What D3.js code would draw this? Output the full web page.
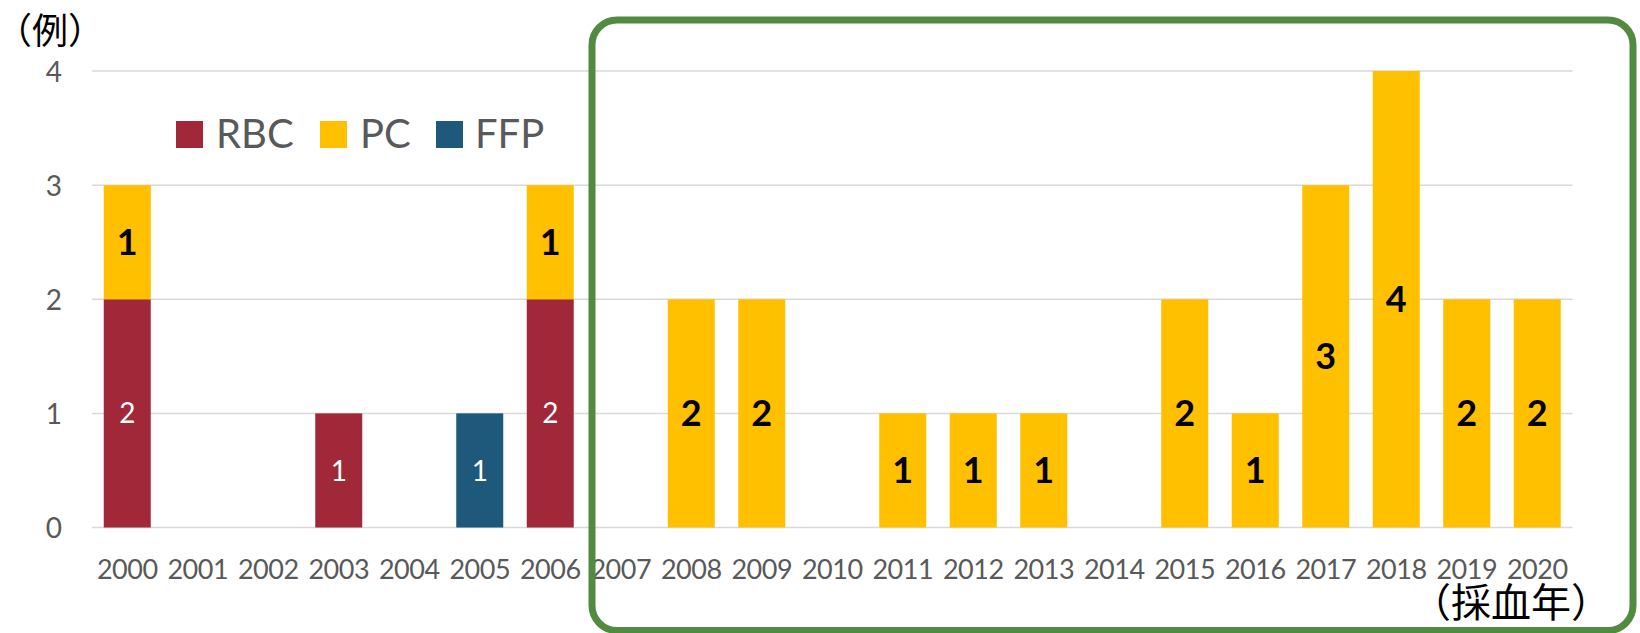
<!DOCTYPE html>
<html>
<head>
<meta charset="utf-8">
<script src="https://cdn.jsdelivr.net/npm/d3@7"></script>
<style>
  html, body { margin: 0; padding: 0; background: #fff; }
  svg { display: block; }
</style>
</head>
<body>
<svg id="chart" width="1640" height="633"></svg>
<script>
// Transfusion-transmitted cases by blood collection year, stacked by product type
const years = ["2000","2001","2002","2003","2004","2005","2006","2007","2008","2009","2010",
               "2011","2012","2013","2014","2015","2016","2017","2018","2019","2020"];
const seriesNames = ["RBC", "PC", "FFP"];
const rbcValues = [2,0,0,1,0,0,2,0,0,0,0,0,0,0,0,0,0,0,0,0,0];
const pcValues  = [1,0,0,0,0,0,1,0,2,2,0,1,1,1,0,2,1,3,4,2,2];
const ffpValues = [0,0,0,0,0,1,0,0,0,0,0,0,0,0,0,0,0,0,0,0,0];
const yTicks = [0, 1, 2, 3, 4];
const yUnitLabel = "（例）";
const xUnitLabel = "（採血年）";

const colors = { RBC: "#A02838", PC: "#FFC000", FFP: "#1E587B" };
const labelStyle = {
  RBC: { fill: "#ffffff", weight: "normal", size: 28 },
  PC:  { fill: "#000000", weight: "bold",   size: 36 },
  FFP: { fill: "#ffffff", weight: "normal", size: 28 }
};
const latin = "Lato, 'Open Sans', sans-serif";
const cjk = "'Noto Sans CJK JP', 'Noto Sans CJK SC', sans-serif";
const gray = "#595959";

const rows = years.map((y, i) => ({ year: y, RBC: rbcValues[i], PC: pcValues[i], FFP: ffpValues[i] }));
const stacked = d3.stack().keys(seriesNames)(rows);

const svg = d3.select("#chart");

const x = d3.scaleBand().domain(years).range([92, 1572.5]).paddingInner(1/3).paddingOuter(1/6);
const y = d3.scaleLinear().domain([0, 4]).range([527.5, 71]);

// Horizontal gridlines
svg.append("g").selectAll("line").data(yTicks).join("line")
  .attr("x1", 92).attr("x2", 1572.5)
  .attr("y1", d => y(d)).attr("y2", d => y(d))
  .attr("stroke", "#D9D9D9").attr("stroke-width", 1.5);

// Y axis tick labels
const yAxis = d3.axisLeft(y).tickValues(yTicks).tickSize(0).tickPadding(0).tickFormat(d3.format("d"));
const yg = svg.append("g").attr("transform", "translate(62,0)").call(yAxis);
yg.select(".domain").remove();
yg.selectAll("text").attr("font-family", latin).attr("font-size", 28).attr("fill", gray)
  .attr("dy", "0.36em");

// X axis tick labels
const xAxis = d3.axisBottom(x).tickSize(0).tickPadding(0);
const xg = svg.append("g").attr("transform", "translate(0,558)").call(xAxis);
xg.select(".domain").remove();
xg.selectAll("text").attr("font-family", latin).attr("font-size", 27).attr("fill", gray)
  .attr("letter-spacing", "-0.5px")
  .attr("dy", "0.76em");

// Stacked bars
const layers = svg.append("g").selectAll("g").data(stacked).join("g")
  .attr("fill", d => colors[d.key]);
layers.selectAll("rect").data(d => d.filter(p => p[1] > p[0])).join("rect")
  .attr("x", d => x(d.data.year))
  .attr("width", x.bandwidth())
  .attr("y", d => y(d[1]))
  .attr("height", d => y(d[0]) - y(d[1]));

// Value labels centred in each segment
stacked.forEach(layer => {
  const st = labelStyle[layer.key];
  svg.append("g").selectAll("text").data(layer.filter(p => p[1] > p[0])).join("text")
    .attr("x", d => x(d.data.year) + x.bandwidth() / 2)
    .attr("y", d => y((d[0] + d[1]) / 2))
    .attr("dy", "0.36em")
    .attr("text-anchor", "middle")
    .attr("font-family", latin)
    .attr("font-size", st.size)
    .attr("font-weight", st.weight)
    .attr("fill", st.fill)
    .text(d => d[1] - d[0]);
});

// Legend
const legendItems = [
  { key: "RBC", sx: 176, tx: 216 },
  { key: "PC",  sx: 320, tx: 360 },
  { key: "FFP", sx: 436, tx: 475 }
];
const lg = svg.append("g");
lg.selectAll("rect").data(legendItems).join("rect")
  .attr("x", d => d.sx).attr("y", 121).attr("width", 27).attr("height", 27)
  .attr("fill", d => colors[d.key]);
lg.selectAll("text").data(legendItems).join("text")
  .attr("x", d => d.tx).attr("y", 148)
  .attr("font-family", latin).attr("font-size", 40).attr("fill", gray)
  .text(d => d.key);

// Axis unit labels
svg.append("text").attr("x", 50).attr("y", 44).attr("text-anchor", "middle")
  .attr("font-family", cjk).attr("font-size", 36).attr("fill", "#000")
  .text(yUnitLabel);
svg.append("text").attr("x", 1511).attr("y", 617).attr("text-anchor", "middle")
  .attr("font-family", cjk).attr("font-size", 40).attr("fill", "#000")
  .text(xUnitLabel);

// Highlight frame around 2007–2020
svg.append("rect")
  .attr("x", 592).attr("y", 20).attr("width", 1041).attr("height", 610.5)
  .attr("rx", 25).attr("ry", 25)
  .attr("fill", "none").attr("stroke", "#538A41").attr("stroke-width", 7);
</script>
</body>
</html>
